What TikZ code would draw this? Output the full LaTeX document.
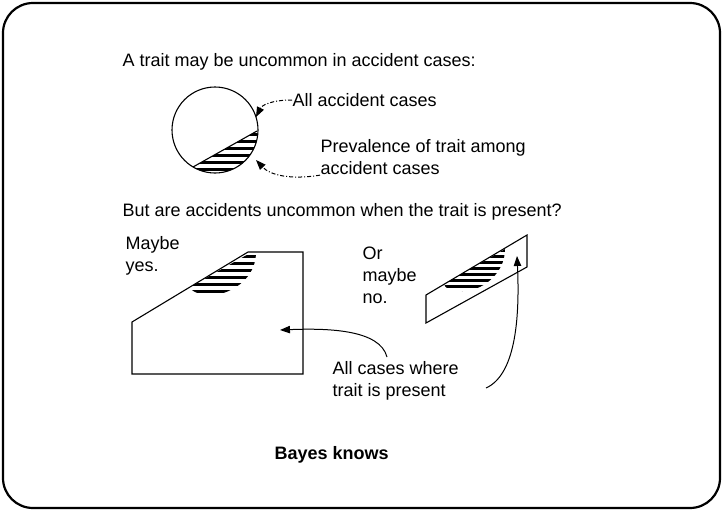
\documentclass[tikz,border=0pt]{standalone}
\usepackage{fontspec}
\setmainfont{Liberation Sans}
\usetikzlibrary{arrows.meta, positioning}
\tikzset{
    fleche/.style={-{Triangle[length=3.5mm, width=2.6mm]}, line width=1pt},
    fleche pointille/.style={fleche, dash pattern=on 4pt off 2pt on 1pt off 2pt},
    texte/.style={anchor=west, inner sep=0pt, font=\fontsize{18}{22}\selectfont},
    hachures/.style={line width=3pt},
}
\begin{document}
\begin{tikzpicture}[x=1pt, y=-1pt, line width=1.1pt]
\useasboundingbox (0,0) rectangle (724,512);
\draw[line width=2.2pt, rounded corners=30pt] (3,3) rectangle (720,508);
% Textes
\node[texte] (titre) at (122,62) {A trait may be uncommon in accident cases:};
\node[texte] (tous) at (292,100) {All accident cases};
\node[texte, align=left] (prev) at (320,157) {Prevalence of trait among\\accident cases};
\node[texte] (question) at (122,212) {But are accidents uncommon when the trait is present?};
\node[texte, align=left] (oui) at (125,256) {Maybe\\yes.};
\node[texte, align=left] (non) at (362,275) {Or\\maybe\\no.};
\node[texte, align=left] (cas) at (332,381) {All cases where\\trait is present};
\node[texte, font=\fontsize{18}{22}\selectfont\bfseries] (bayes) at (274,455) {Bayes knows};
% Cercle et segment hachure
\coordinate (centre) at (215,130);
\draw (centre) circle (43);
\coordinate (cordeA) at (193,167);
\coordinate (cordeB) at (257,131);
\draw (cordeA) -- (cordeB);
\begin{scope}
\clip (centre) circle (43);
\clip (cordeA) -- (cordeB) -- (270,180) -- (180,180) -- cycle;
\foreach \y in {134,141,...,175} {\draw[hachures] (170,\y) -- (260,\y);}
\end{scope}
% Forme de gauche
\coordinate (gA) at (132,322);
\coordinate (gB) at (248,252);
\draw (gA) -- (gB) -- (303,252) -- (303,374) -- (132,374) -- cycle;
\begin{scope}
\clip (190,287) -- (252,252) -- (256,252) .. controls (256,285) and (220,298) .. (205,295) .. controls (195,293) and (190,290) .. (190,287) -- cycle;
\foreach \y in {256,263,...,298} {\draw[hachures] (180,\y) -- (260,\y);}
\end{scope}
% Forme de droite
\coordinate (dA) at (426,323);
\coordinate (dB) at (527,267);
\draw (dA) -- (426,295) -- (527,235) -- (dB) -- cycle;
\begin{scope}
\clip (444,284) -- (505,249) .. controls (505,275) and (480,292) .. (462,291) .. controls (452,291) and (444,288) .. (444,284) -- cycle;
\foreach \y in {250,256,...,292} {\draw[hachures] (440,\y) -- (510,\y);}
\end{scope}
% Fleches
\coordinate (cercleHaut) at (256,117);
\coordinate (cercleBas) at (256,160);
\coordinate (dansGauche) at (280,330);
\coordinate (dansDroite) at (517,256);
\draw[fleche pointille] (tous.west) .. controls (272,100) and (262,105) .. (cercleHaut);
\draw[fleche pointille] (prev.south west) .. controls (290,180) and (270,175) .. (cercleBas);
\draw[fleche] (387,357) .. controls (380,330) and (330,328) .. (dansGauche);
\draw[fleche] (486,388) .. controls (515,375) and (520,320) .. (dansDroite);
\end{tikzpicture}
\end{document}
